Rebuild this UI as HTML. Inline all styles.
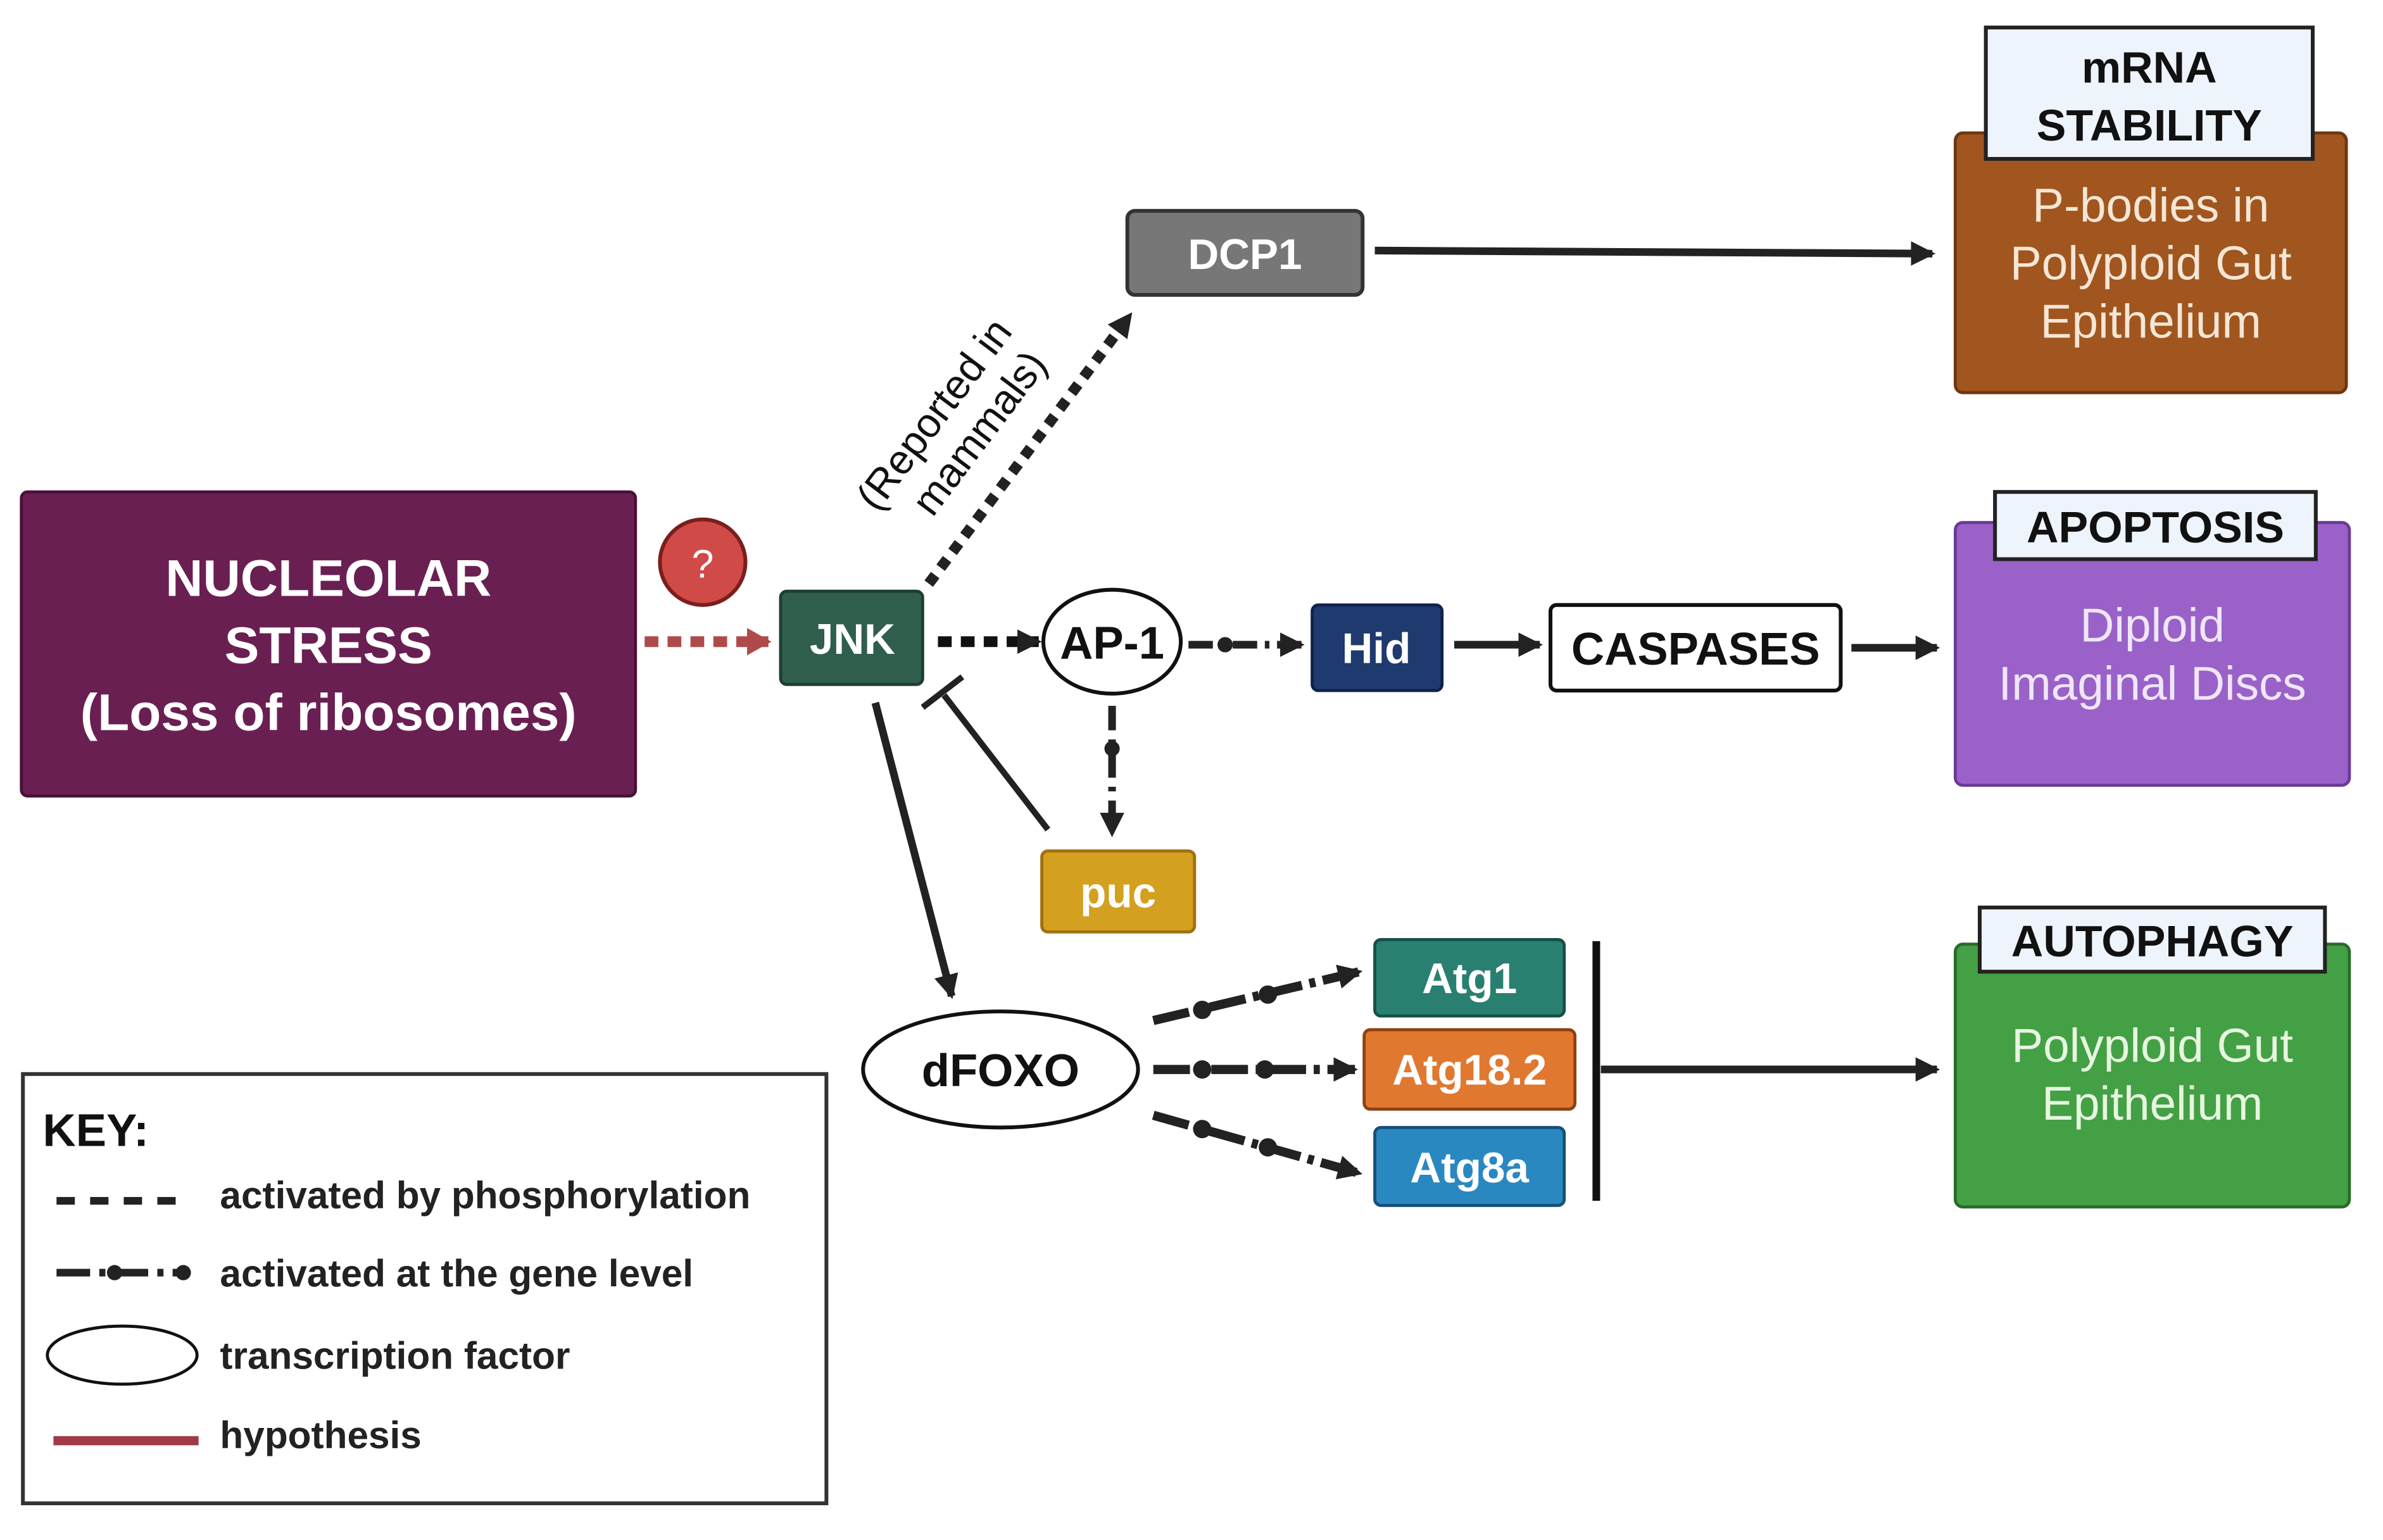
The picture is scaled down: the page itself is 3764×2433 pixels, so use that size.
<!DOCTYPE html>
<html><head><meta charset="utf-8"><style>
html,body{margin:0;padding:0;background:#fff;}
svg{display:block;}
text{font-family:"Liberation Sans",sans-serif;}
</style></head><body>
<svg width="3764" height="2433" viewBox="0 0 1560 1008" preserveAspectRatio="none" xmlns="http://www.w3.org/2000/svg">
<defs>
<marker id="ahb" markerWidth="16" markerHeight="16" refX="14" refY="8" orient="auto" markerUnits="userSpaceOnUse" viewBox="0 0 16 16"><path d="M0,0 L16,8 L0,16 z" fill="#222"/></marker>
<marker id="ahr" markerWidth="16" markerHeight="18" refX="14" refY="9" orient="auto" markerUnits="userSpaceOnUse" viewBox="0 0 16 18"><path d="M0,0 L16,9 L0,18 z" fill="#b04a4a"/></marker>
</defs>

<rect x="14" y="322" width="402" height="199" rx="4" fill="#6a1f52" stroke="#4a1038" stroke-width="2"/>
<text x="215" y="390" font-size="34" font-weight="bold" fill="#fff" text-anchor="middle">NUCLEOLAR</text>
<text x="215" y="434" font-size="34" font-weight="bold" fill="#fff" text-anchor="middle">STRESS</text>
<text x="215" y="478" font-size="34" font-weight="bold" fill="#fff" text-anchor="middle">(Loss of ribosomes)</text>

<circle cx="460" cy="368" r="28" fill="#d04a48" stroke="#7a1e1e" stroke-width="2.5"/>
<text x="460" y="378" font-size="26" fill="#fff" text-anchor="middle">?</text>

<line x1="422" y1="420" x2="503" y2="420" stroke="#b04a4a" stroke-width="7" stroke-dasharray="9,6" marker-end="url(#ahr)"/>

<rect x="511" y="387" width="93" height="61" rx="4" fill="#2f5e4c" stroke="#1e3e32" stroke-width="2"/>
<text x="558" y="428" font-size="28" font-weight="bold" fill="#fff" text-anchor="middle">JNK</text>

<line x1="614" y1="420" x2="680" y2="420" stroke="#111" stroke-width="7" stroke-dasharray="9,6" marker-end="url(#ahb)"/>

<ellipse cx="728" cy="420" rx="45" ry="34" fill="#fff" stroke="#111" stroke-width="2.5"/>
<text x="728" y="431" font-size="30" font-weight="bold" fill="#111" text-anchor="middle">AP-1</text>

<line x1="778" y1="422" x2="852" y2="422" stroke="#222" stroke-width="5" stroke-dasharray="16,5,3,5" marker-end="url(#ahb)"/>
<circle cx="802" cy="422" r="5" fill="#222"/>

<rect x="859" y="396" width="85" height="56" rx="4" fill="#1e3a6e" stroke="#10224a" stroke-width="2"/>
<text x="901" y="434" font-size="28" font-weight="bold" fill="#fff" text-anchor="middle">Hid</text>

<line x1="952" y1="422" x2="1008" y2="422" stroke="#222" stroke-width="5" marker-end="url(#ahb)"/>

<rect x="1015" y="396" width="190" height="56" rx="4" fill="#fff" stroke="#111" stroke-width="2.5"/>
<text x="1110" y="435" font-size="30" font-weight="bold" fill="#111" text-anchor="middle">CASPASES</text>

<line x1="1212" y1="424" x2="1268" y2="424" stroke="#222" stroke-width="5" marker-end="url(#ahb)"/>

<rect x="1280" y="342" width="258" height="172" rx="5" fill="#9a62c8" stroke="#6a3a98" stroke-width="2"/>
<rect x="1306" y="322" width="210" height="44" fill="#eef4fb" stroke="#222" stroke-width="2.5"/>
<text x="1411" y="355" font-size="29" font-weight="bold" fill="#111" text-anchor="middle">APOPTOSIS</text>
<text x="1409" y="420" font-size="31" fill="#efe6f8" text-anchor="middle">Diploid</text>
<text x="1409" y="458" font-size="31" fill="#efe6f8" text-anchor="middle">Imaginal Discs</text>

<rect x="1280" y="87" width="256" height="170" rx="5" fill="#a0561e" stroke="#6e3610" stroke-width="2"/>
<rect x="1300" y="18" width="214" height="86" fill="#eef4fb" stroke="#222" stroke-width="2.5"/>
<text x="1407" y="54" font-size="29" font-weight="bold" fill="#111" text-anchor="middle">mRNA</text>
<text x="1407" y="92" font-size="29" font-weight="bold" fill="#111" text-anchor="middle">STABILITY</text>
<text x="1408" y="145" font-size="31" fill="#f5e6d6" text-anchor="middle">P-bodies in</text>
<text x="1408" y="183" font-size="31" fill="#f5e6d6" text-anchor="middle">Polyploid Gut</text>
<text x="1408" y="221" font-size="31" fill="#f5e6d6" text-anchor="middle">Epithelium</text>

<rect x="738" y="138" width="154" height="55" rx="5" fill="#777" stroke="#333" stroke-width="2.5"/>
<text x="815" y="176" font-size="28" font-weight="bold" fill="#fff" text-anchor="middle">DCP1</text>
<line x1="900" y1="164" x2="1265" y2="166" stroke="#222" stroke-width="5" marker-end="url(#ahb)"/>

<line x1="608" y1="382" x2="740" y2="206" stroke="#222" stroke-width="7" stroke-dasharray="7,6" marker-end="url(#ahb)"/>
<g transform="translate(626,282) rotate(-53)">
<text x="0" y="-9" font-size="27" fill="#111" text-anchor="middle">(Reported in</text>
<text x="8" y="22" font-size="27" fill="#111" text-anchor="middle">mammals)</text>
</g>

<line x1="728" y1="462" x2="728" y2="546" stroke="#222" stroke-width="5" stroke-dasharray="16,6,3,6" marker-end="url(#ahb)"/>
<circle cx="728" cy="490" r="5" fill="#222"/>
<rect x="682" y="557" width="100" height="53" rx="4" fill="#d4a020" stroke="#a07010" stroke-width="2"/>
<text x="732" y="594" font-size="28" font-weight="bold" fill="#fff" text-anchor="middle">puc</text>

<line x1="686" y1="543" x2="618" y2="455" stroke="#222" stroke-width="4"/>
<line x1="604" y1="463" x2="630" y2="443" stroke="#222" stroke-width="4"/>

<line x1="573" y1="460" x2="623" y2="652" stroke="#222" stroke-width="5" marker-end="url(#ahb)"/>

<ellipse cx="655" cy="700" rx="90" ry="38" fill="#fff" stroke="#111" stroke-width="2.5"/>
<text x="655" y="711" font-size="30" font-weight="bold" fill="#111" text-anchor="middle">dFOXO</text>

<g stroke="#222" stroke-width="6" stroke-dasharray="24,5,4,5">
<line x1="755" y1="668" x2="890" y2="636" marker-end="url(#ahb)"/>
<line x1="755" y1="700" x2="887" y2="700" marker-end="url(#ahb)"/>
<line x1="755" y1="730" x2="890" y2="768" marker-end="url(#ahb)"/>
</g>
<g fill="#222">
<circle cx="787" cy="661" r="6"/><circle cx="830" cy="651" r="6"/>
<circle cx="787" cy="700" r="6"/><circle cx="828" cy="700" r="6"/>
<circle cx="787" cy="739" r="6"/><circle cx="830" cy="751" r="6"/>
</g>

<rect x="900" y="615" width="124" height="50" rx="4" fill="#2a8070" stroke="#145048" stroke-width="2"/>
<text x="962" y="650" font-size="28" font-weight="bold" fill="#fff" text-anchor="middle">Atg1</text>
<rect x="893" y="674" width="138" height="52" rx="4" fill="#e07830" stroke="#904010" stroke-width="2"/>
<text x="962" y="710" font-size="28" font-weight="bold" fill="#fff" text-anchor="middle">Atg18.2</text>
<rect x="900" y="738" width="124" height="51" rx="4" fill="#2a88c0" stroke="#15507a" stroke-width="2"/>
<text x="962" y="774" font-size="28" font-weight="bold" fill="#fff" text-anchor="middle">Atg8a</text>

<line x1="1045" y1="616" x2="1045" y2="786" stroke="#111" stroke-width="5"/>
<line x1="1048" y1="700" x2="1268" y2="700" stroke="#222" stroke-width="5" marker-end="url(#ahb)"/>

<rect x="1280" y="618" width="258" height="172" rx="5" fill="#44a044" stroke="#2a6a2a" stroke-width="2"/>
<rect x="1296" y="594" width="226" height="42" fill="#eef4fb" stroke="#222" stroke-width="2.5"/>
<text x="1409" y="626" font-size="29" font-weight="bold" fill="#111" text-anchor="middle">AUTOPHAGY</text>
<text x="1409" y="695" font-size="31" fill="#e6f6e0" text-anchor="middle">Polyploid Gut</text>
<text x="1409" y="733" font-size="31" fill="#e6f6e0" text-anchor="middle">Epithelium</text>

<rect x="15" y="703" width="526" height="281" fill="#fff" stroke="#333" stroke-width="2.5"/>
<text x="28" y="750" font-size="30" font-weight="bold" fill="#111">KEY:</text>
<line x1="37" y1="786" x2="122" y2="786" stroke="#222" stroke-width="5" stroke-dasharray="12,10"/>
<text x="144" y="791" font-size="25" font-weight="bold" fill="#222">activated by phosphorylation</text>
<line x1="37" y1="833" x2="122" y2="833" stroke="#222" stroke-width="5" stroke-dasharray="22,6,4,6"/>
<circle cx="75" cy="833" r="5" fill="#222"/><circle cx="120" cy="833" r="5" fill="#222"/>
<text x="144" y="842" font-size="25" font-weight="bold" fill="#222">activated at the gene level</text>
<ellipse cx="80" cy="887" rx="49" ry="19" fill="#fff" stroke="#111" stroke-width="2"/>
<text x="144" y="896" font-size="25" font-weight="bold" fill="#222">transcription factor</text>
<line x1="35" y1="943" x2="130" y2="943" stroke="#a03a48" stroke-width="6"/>
<text x="144" y="948" font-size="25" font-weight="bold" fill="#222">hypothesis</text>
</svg>
</body></html>
